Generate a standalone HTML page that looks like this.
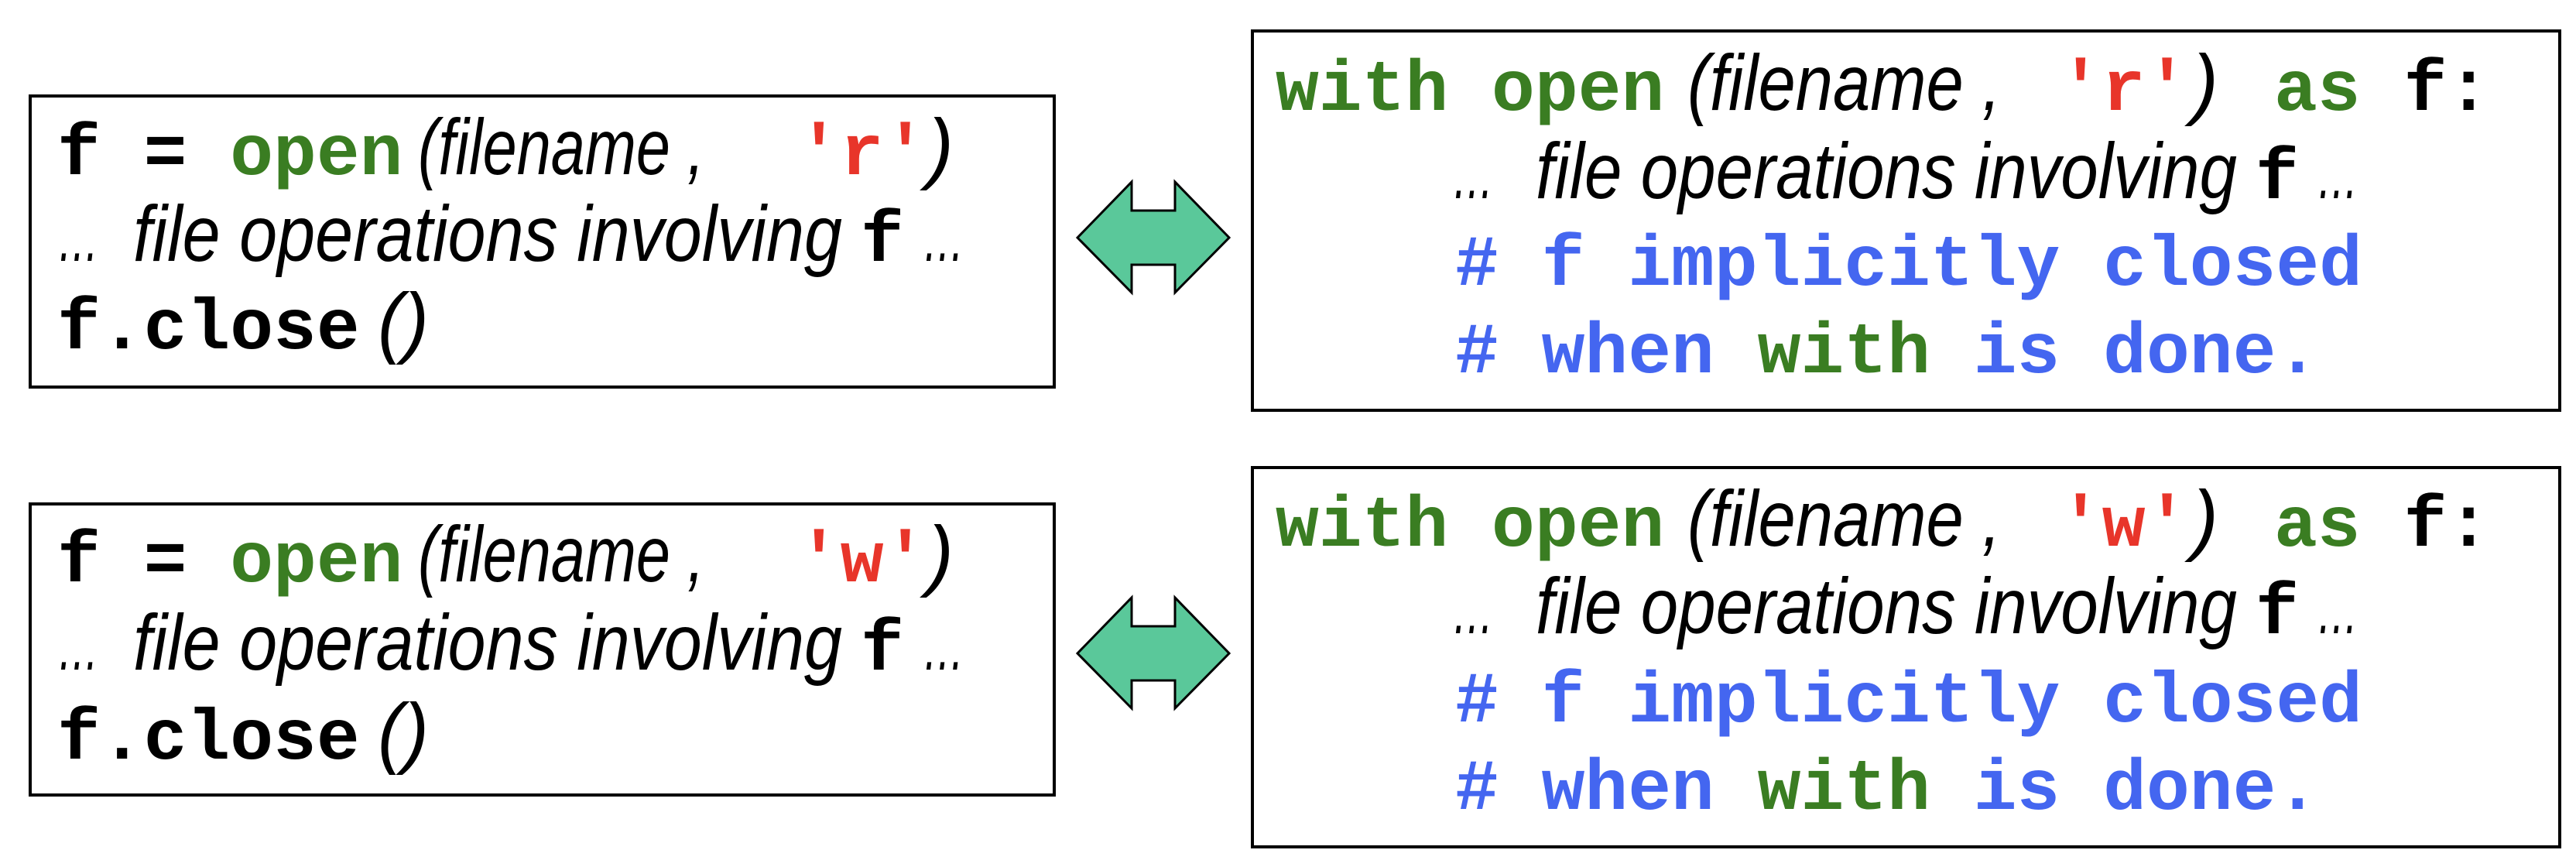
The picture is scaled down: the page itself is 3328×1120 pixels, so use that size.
<!DOCTYPE html>
<html><head><meta charset="utf-8"><style>
html,body{margin:0;padding:0;background:#fff;}
svg{display:block}
.m{font-family:"Liberation Mono",monospace;font-weight:bold;font-size:93px}
.i{font-family:"Liberation Sans",sans-serif;font-style:italic;font-size:102px}
.e{font-family:"Liberation Sans",sans-serif;font-style:italic;font-size:90px}
.g{fill:#3a7d22}.r{fill:#e8352a}.b{fill:#4466f0}.k{fill:#000}
</style></head><body>
<svg width="3328" height="1120" viewBox="0 0 3328 1120" xmlns="http://www.w3.org/2000/svg">
<defs>
<g id="arr"><polygon points="1392,0 1462,-72 1462,-35 1518,-35 1518,-72 1588,0 1518,71 1518,35 1462,35 1462,71" fill="#5ac89a" stroke="#000" stroke-width="3" stroke-linejoin="miter"/></g>
</defs>
<!-- Row 1 -->
<rect x="39" y="124" width="1323" height="376" fill="none" stroke="#000" stroke-width="4"/>
<text class="m k" x="74" y="225">f = <tspan class="g">open</tspan></text>
<text class="i k" x="540" y="225" textLength="370" lengthAdjust="spacingAndGlyphs">(filename ,</text>
<text class="m r" x="1030" y="225">'r'</text>
<text class="i k" x="1198" y="225">)</text>
<text class="e k" x="74" y="337" textLength="54" lengthAdjust="spacingAndGlyphs">…</text>
<text class="i k" x="172" y="337" textLength="916" lengthAdjust="spacingAndGlyphs">file operations involving</text>
<text class="m k" x="1112" y="337">f</text>
<text class="e k" x="1192" y="337" textLength="54" lengthAdjust="spacingAndGlyphs">…</text>
<text class="m k" x="74" y="450">f.close</text>
<text class="i k" x="488" y="450" textLength="66" lengthAdjust="spacingAndGlyphs">()</text>
<use href="#arr" transform="translate(0,307)"/>
<rect x="1618" y="40" width="1689" height="490" fill="none" stroke="#000" stroke-width="4"/>
<text class="m g" x="1648" y="142">with open</text>
<text class="i k" x="2180" y="142" textLength="405" lengthAdjust="spacingAndGlyphs">(filename ,</text>
<text class="m r" x="2660" y="142">'r'</text>
<text class="i k" x="2832" y="142">)</text>
<text class="m g" x="2938" y="142">as <tspan class="k">f:</tspan></text>
<text class="e k" x="1876" y="256" textLength="54" lengthAdjust="spacingAndGlyphs">…</text>
<text class="i k" x="1984" y="256" textLength="906" lengthAdjust="spacingAndGlyphs">file operations involving</text>
<text class="m k" x="2914" y="256">f</text>
<text class="e k" x="2993" y="256" textLength="54" lengthAdjust="spacingAndGlyphs">…</text>
<text class="m b" x="1880" y="368"># f implicitly closed</text>
<text class="m b" x="1880" y="481"># when <tspan class="g">with</tspan> is done.</text>
<!-- Row 2 -->
<rect x="39" y="651" width="1323" height="376" fill="none" stroke="#000" stroke-width="4"/>
<text class="m k" x="74" y="751">f = <tspan class="g">open</tspan></text>
<text class="i k" x="540" y="751" textLength="370" lengthAdjust="spacingAndGlyphs">(filename ,</text>
<text class="m r" x="1030" y="751">'w'</text>
<text class="i k" x="1198" y="751">)</text>
<text class="e k" x="74" y="865" textLength="54" lengthAdjust="spacingAndGlyphs">…</text>
<text class="i k" x="172" y="865" textLength="916" lengthAdjust="spacingAndGlyphs">file operations involving</text>
<text class="m k" x="1112" y="865">f</text>
<text class="e k" x="1192" y="865" textLength="54" lengthAdjust="spacingAndGlyphs">…</text>
<text class="m k" x="74" y="980">f.close</text>
<text class="i k" x="488" y="980" textLength="66" lengthAdjust="spacingAndGlyphs">()</text>
<use href="#arr" transform="translate(0,844)"/>
<rect x="1618" y="604" width="1689" height="490" fill="none" stroke="#000" stroke-width="4"/>
<text class="m g" x="1648" y="705">with open</text>
<text class="i k" x="2180" y="705" textLength="405" lengthAdjust="spacingAndGlyphs">(filename ,</text>
<text class="m r" x="2660" y="705">'w'</text>
<text class="i k" x="2832" y="705">)</text>
<text class="m g" x="2938" y="705">as <tspan class="k">f:</tspan></text>
<text class="e k" x="1876" y="818" textLength="54" lengthAdjust="spacingAndGlyphs">…</text>
<text class="i k" x="1984" y="818" textLength="906" lengthAdjust="spacingAndGlyphs">file operations involving</text>
<text class="m k" x="2914" y="818">f</text>
<text class="e k" x="2993" y="818" textLength="54" lengthAdjust="spacingAndGlyphs">…</text>
<text class="m b" x="1880" y="932"># f implicitly closed</text>
<text class="m b" x="1880" y="1045"># when <tspan class="g">with</tspan> is done.</text>
</svg>
</body></html>
